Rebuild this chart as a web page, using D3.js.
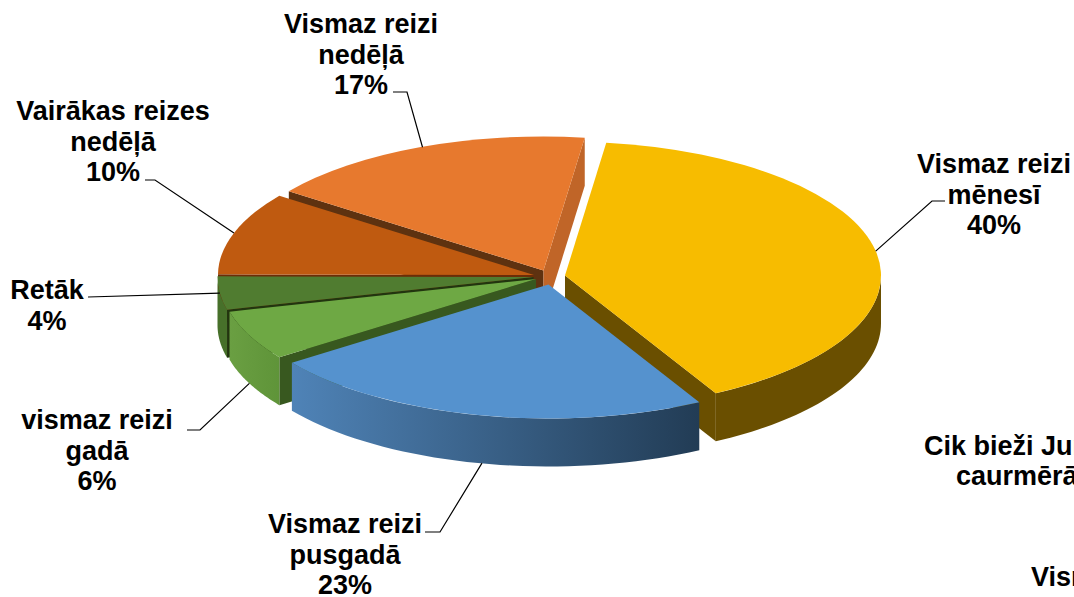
<!DOCTYPE html>
<html>
<head>
<meta charset="utf-8">
<script src="https://cdn.jsdelivr.net/npm/d3@7"></script>
<style>
  html, body { margin: 0; padding: 0; background: #fff; overflow: hidden; }
  text { font-family: "Liberation Sans", Arial, sans-serif; font-weight: bold; fill: #000; }
</style>
</head>
<body>
<div id="chart"></div>
<script>
// Data, in the order the slices run clockwise
const categories = [
  ["Vismaz reizi", "mēnesī"],
  ["Vismaz reizi", "pusgadā"],
  ["vismaz reizi", "gadā"],
  ["Retāk"],
  ["Vairākas reizes", "nedēļā"],
  ["Vismaz reizi", "nedēļā"]
];
const values = [40, 23, 6, 4, 10, 17];

// How far each slice is pulled away from the pie centre, in pixels
const explodeX = [17, 0.5, -12, -14.5, -14, -4.5];
const explodeY = [-1, 8, 2.5, 0.5, -1.5, -6];

const topColors = ["#f7bc00", "#5592ce", "#6ea844", "#507c30", "#bf5a10", "#e7792e"];
const cutColors = ["#6a4f00", "#3f6a94", "#38581f", "#22350f", "#6b2d08", "#c06528"];
const cutColorsStart = ["#6a4f00", "#3f6a94", "#38581f", "#22350f", "#6b2d08", "#5e3210"];
const wallStart = ["#6a4f00", "#4f83b7", "#6a9f42", "#47702a", "#6b2d08", "#c06528"];
const wallEnd = ["#6a4f00", "#223c55", "#5f9439", "#47702a", "#6b2d08", "#c06528"];

// Label placement: centre x, y of first line, and the elbow of the leader line
const labelX = [994, 345, 97, 47, 113, 361];
const labelY = [173, 533, 429, 299, 120, 33];
const elbowX = [[932, 945], [440, 425], [200, 187], [88], [155, 145], [407, 393]];
const elbowY = [[201, 201], [532, 532], [430, 430], [297], [180, 180], [92, 92]];
// small nudge of where a leader line leaves the rim
const leaderNudge = [0, 4, 0, 0, 0, 3];

// Heading of the next chart, cut off by the edge of the picture
const clippedText = [
  { text: "Cik bieži Jur", x: 924, y: 455 },
  { text: "caurmērā", x: 956, y: 485 },
  { text: "Vismaz", x: 1031, y: 586 }
];

const width = 1074;
const height = 597;
const cx = 548;
const cy = 276.5;
const radius = 316;
const tilt = 0.424;  // vertical squash of the pie
const depth = 48;
const firstAngle = 7.5 * Math.PI / 180;
const fontSize = 27;

const svg = d3.select("#chart")
  .append("svg")
  .attr("width", width)
  .attr("height", height)
  .attr("viewBox", [0, 0, width, height])
  .style("display", "block");

const defs = svg.append("defs");

const pie = d3.pie()
  .sort(null)
  .startAngle(firstAngle)
  .endAngle(firstAngle + 2 * Math.PI);

const arc = d3.arc().innerRadius(0).outerRadius(radius);

const slices = pie(values);

// point on the rim of the tilted pie, relative to the slice apex
const rimX = (a) => radius * Math.sin(a);
const rimY = (a) => -radius * tilt * Math.cos(a);

slices.forEach((d, i) => {
  d.mid = (d.startAngle + d.endAngle) / 2;
  d.ax = cx + explodeX[i];
  d.ay = cy + explodeY[i];
});

// side face along one straight edge of a slice
function cutPath(d, a) {
  const p = d3.path();
  p.moveTo(d.ax, d.ay);
  p.lineTo(d.ax + rimX(a), d.ay + rimY(a));
  p.lineTo(d.ax + rimX(a), d.ay + rimY(a) + depth);
  p.lineTo(d.ax, d.ay + depth);
  p.closePath();
  return p.toString();
}

// outer wall: the part of the rim that faces the viewer
function wallPath(d, from, to) {
  const angles = d3.range(41).map((k) => from + (to - from) * k / 40);
  const area = d3.area()
    .x((a) => d.ax + rimX(a))
    .y0((a) => d.ay + rimY(a))
    .y1((a) => d.ay + rimY(a) + depth);
  return area(angles);
}

// back slices first so the front ones sit on top of them
const paintOrder = [5, 4, 3, 2, 0, 1];

paintOrder.forEach((i) => {
  const d = slices[i];
  const g = svg.append("g").attr("class", "slice");

  if (Math.sin(d.startAngle) < 0) {
    g.append("path").attr("d", cutPath(d, d.startAngle)).attr("fill", cutColorsStart[i]);
  }
  if (Math.sin(d.endAngle) > 0) {
    g.append("path").attr("d", cutPath(d, d.endAngle)).attr("fill", cutColors[i]);
  }

  const from = Math.max(d.startAngle, Math.PI / 2);
  const to = Math.min(d.endAngle, 3 * Math.PI / 2);
  if (to > from) {
    const gradient = defs.append("linearGradient")
      .attr("id", "wall" + i)
      .attr("gradientUnits", "userSpaceOnUse")
      .attr("x1", d.ax + rimX(to))
      .attr("x2", d.ax + rimX(from))
      .attr("y1", 0)
      .attr("y2", 0);
    gradient.append("stop").attr("offset", 0).attr("stop-color", wallStart[i]);
    gradient.append("stop").attr("offset", 1).attr("stop-color", wallEnd[i]);
    g.append("path").attr("d", wallPath(d, from, to)).attr("fill", "url(#wall" + i + ")");
  }

  g.append("path")
    .attr("d", arc(d))
    .attr("transform", `translate(${d.ax},${d.ay}) scale(1,${tilt})`)
    .attr("fill", topColors[i]);
});

// Leader lines start on the rim at the middle of the slice
const line = d3.line();
slices.forEach((d, i) => {
  const onWall = Math.cos(d.mid) < -0.3;
  const start = [d.ax + rimX(d.mid) + leaderNudge[i], d.ay + rimY(d.mid) + (onWall ? depth : 0)];
  const pts = [start].concat(elbowX[i].map((x, k) => [x, elbowY[i][k]]));
  svg.append("path")
    .attr("d", line(pts))
    .attr("fill", "none")
    .attr("stroke", "#000")
    .attr("stroke-width", 1.2);
});

// Labels
categories.forEach((lines, i) => {
  const text = svg.append("text")
    .attr("text-anchor", "middle")
    .attr("font-size", fontSize);
  lines.concat([values[i] + "%"]).forEach((s, k) => {
    text.append("tspan")
      .attr("x", labelX[i])
      .attr("y", labelY[i] + k * 30.5)
      .text(s);
  });
});

svg.selectAll("text.clipped")
  .data(clippedText)
  .enter()
  .append("text")
    .attr("class", "clipped")
    .attr("font-size", fontSize)
    .attr("x", (d) => d.x)
    .attr("y", (d) => d.y)
    .text((d) => d.text);
</script>
</body>
</html>
